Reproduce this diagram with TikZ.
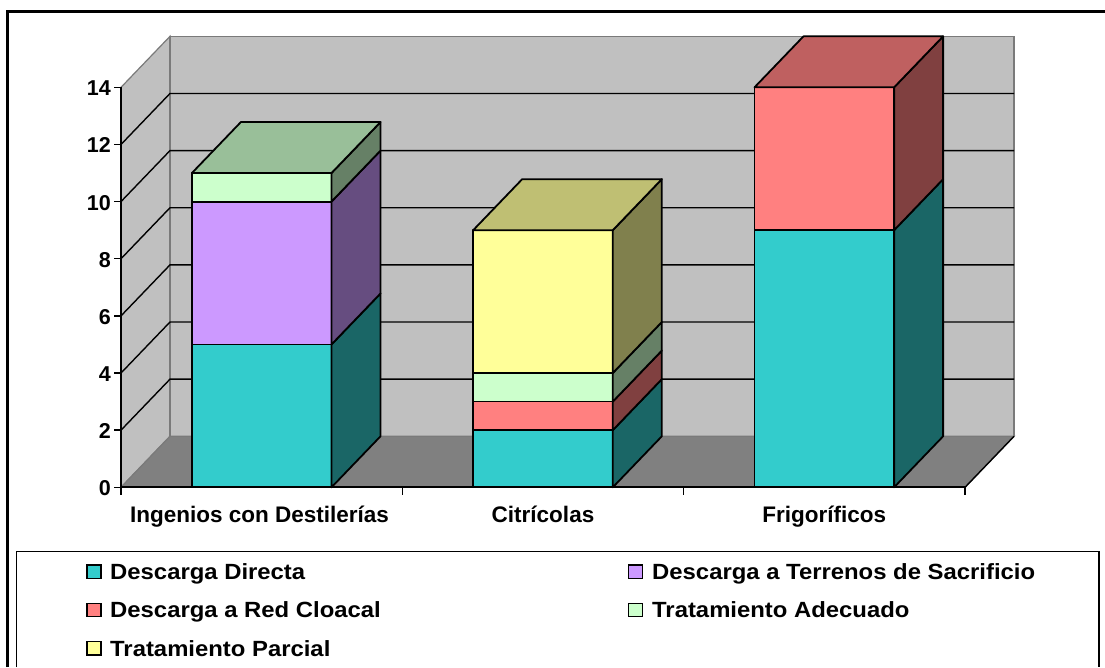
\documentclass[tikz,border=0pt]{standalone}
\usepackage{fontspec}
\setmainfont{Liberation Sans}
\usepackage{graphicx}
\definecolor{cyanF}{HTML}{33CCCC}\definecolor{cyanS}{HTML}{1A6666}
\definecolor{purF}{HTML}{CC99FF}\definecolor{purS}{HTML}{664D80}
\definecolor{redF}{HTML}{FF8080}\definecolor{redT}{HTML}{BF6060}\definecolor{redS}{HTML}{804040}
\definecolor{grnF}{HTML}{CCFFCC}\definecolor{grnT}{HTML}{99BF99}\definecolor{grnS}{HTML}{668066}
\definecolor{yelF}{HTML}{FFFF99}\definecolor{yelT}{HTML}{BFBF73}\definecolor{yelS}{HTML}{80804D}
\definecolor{wallC}{HTML}{C0C0C0}\definecolor{floorC}{HTML}{808080}\definecolor{edgeC}{HTML}{7A7A7A}
\newcommand\chY[1]{(487.3-28.57*(#1))}
\newcommand\barW{139.6}
\newcommand\depX{49}
\newcommand\depY{51}
\newcommand\barseg[5]{%
 \draw[bar,fill=#4] (#1,{\chY{#2}}) rectangle ({#1+\barW},{\chY{#3}});
 \draw[bar,fill=#5] ({#1+\barW},{\chY{#2}}) -- ({#1+\barW+\depX},{\chY{#2}-\depY}) -- ({#1+\barW+\depX},{\chY{#3}-\depY}) -- ({#1+\barW},{\chY{#3}}) -- cycle;}
\newcommand\bartop[3]{%
 \draw[bar,fill=#3] (#1,{\chY{#2}}) -- ({#1+\depX},{\chY{#2}-\depY}) -- ({#1+\barW+\depX},{\chY{#2}-\depY}) -- ({#1+\barW},{\chY{#2}}) -- cycle;}
\begin{document}
\begin{tikzpicture}[x=1pt,y=-1pt,
  bar/.style={draw=black, line width=1.8pt, line join=round},
  gridln/.style={draw=black, line width=1.4pt},
  wall/.style={draw=edgeC, line width=1.2pt},
  lbl/.style={font=\fontsize{22.5}{26}\selectfont\bfseries, inner sep=0pt},
  tk/.style={font=\fontsize{21.5}{24}\selectfont\bfseries, inner sep=0pt, anchor=east},
  leg/.style={font=\fontsize{22}{26}\selectfont\bfseries, inner sep=0pt, anchor=base west},
  key/.style={draw=black, line width=1.3pt},
]
\useasboundingbox (0,0) rectangle (1105,667);
\fill[white] (0,0) rectangle (1105,667);
% walls
\filldraw[wall, fill=wallC] (121,{\chY{0}}) -- (121,{\chY{14}}) -- (170,{\chY{14}-51}) -- (170,{\chY{0}-51}) -- cycle;
\filldraw[wall, fill=wallC] (170,{\chY{14}-51}) rectangle (1014,{\chY{0}-51});
\filldraw[wall, fill=floorC] (121,{\chY{0}}) -- (965,{\chY{0}}) -- (1014,{\chY{0}-51}) -- (170,{\chY{0}-51}) -- cycle;
\draw[gridln] (965,{\chY{0}}) -- (1014,{\chY{0}-51});
% gridlines
\foreach \v in {2,4,...,12}
  \draw[gridln] (121,{\chY{\v}}) -- (170,{\chY{\v}-51}) -- (1014,{\chY{\v}-51});
% axes
\draw[gridln] (121,{\chY{0}}) -- (121,{\chY{14}});
\foreach \v in {0,2,...,14}{
  \draw[gridln] (114,{\chY{\v}}) -- (121,{\chY{\v}});
  \node[tk] (t\v) at (111,{\chY{\v}+1}) {\v};}
\draw[black, line width=2pt] (121,{\chY{0}}) -- (965,{\chY{0}});
\foreach \x in {121,402.3,683.7,965}
  \draw[gridln] (\x,{\chY{0}}) -- (\x,494.5);
% bars
\barseg{191.9}{0}{5}{cyanF}{cyanS}
\barseg{191.9}{5}{10}{purF}{purS}
\barseg{191.9}{10}{11}{grnF}{grnS}
\bartop{191.9}{11}{grnT}
\barseg{473.2}{0}{2}{cyanF}{cyanS}
\barseg{473.2}{2}{3}{redF}{redS}
\barseg{473.2}{3}{4}{grnF}{grnS}
\barseg{473.2}{4}{9}{yelF}{yelS}
\bartop{473.2}{9}{yelT}
\barseg{754.5}{0}{9}{cyanF}{cyanS}
\barseg{754.5}{9}{14}{redF}{redS}
\bartop{754.5}{14}{redT}
% category labels
\node[lbl, anchor=base] (c1) at (259.5,522) {Ingenios con Destilerías};
\node[lbl, anchor=base] (c2) at (543,522) {Citrícolas};
\node[lbl, anchor=base] (c3) at (824.3,522) {Frigoríficos};
% frames
\draw[black, line width=3pt] (7,667) -- (7,11) -- (1105,11);
\draw[black, line width=1.5pt] (16.7,667) -- (16.7,551.7) -- (1099,551.7) -- (1099,667);
% legend
\draw[key, fill=cyanF] (87,565) rectangle (101,578.3);
\node[leg] (l1) at (110,579.5) {\scalebox{1.085}[1]{Descarga Directa}};
\draw[key, fill=redF] (87,603.3) rectangle (101,616.6);
\node[leg] (l2) at (110,617.8) {\scalebox{1.085}[1]{Descarga a Red Cloacal}};
\draw[key, fill=yelF] (87,641.6) rectangle (101,654.9);
\node[leg] (l3) at (110,656.1) {\scalebox{1.085}[1]{Tratamiento Parcial}};
\draw[key, fill=purF] (628.5,565) rectangle (642.5,578.3);
\node[leg] (l4) at (652,579.5) {\scalebox{1.085}[1]{Descarga a Terrenos de Sacrificio}};
\draw[key, fill=grnF] (628.5,603.3) rectangle (642.5,616.6);
\node[leg] (l5) at (652,617.8) {\scalebox{1.085}[1]{Tratamiento Adecuado}};
\end{tikzpicture}
\end{document}
